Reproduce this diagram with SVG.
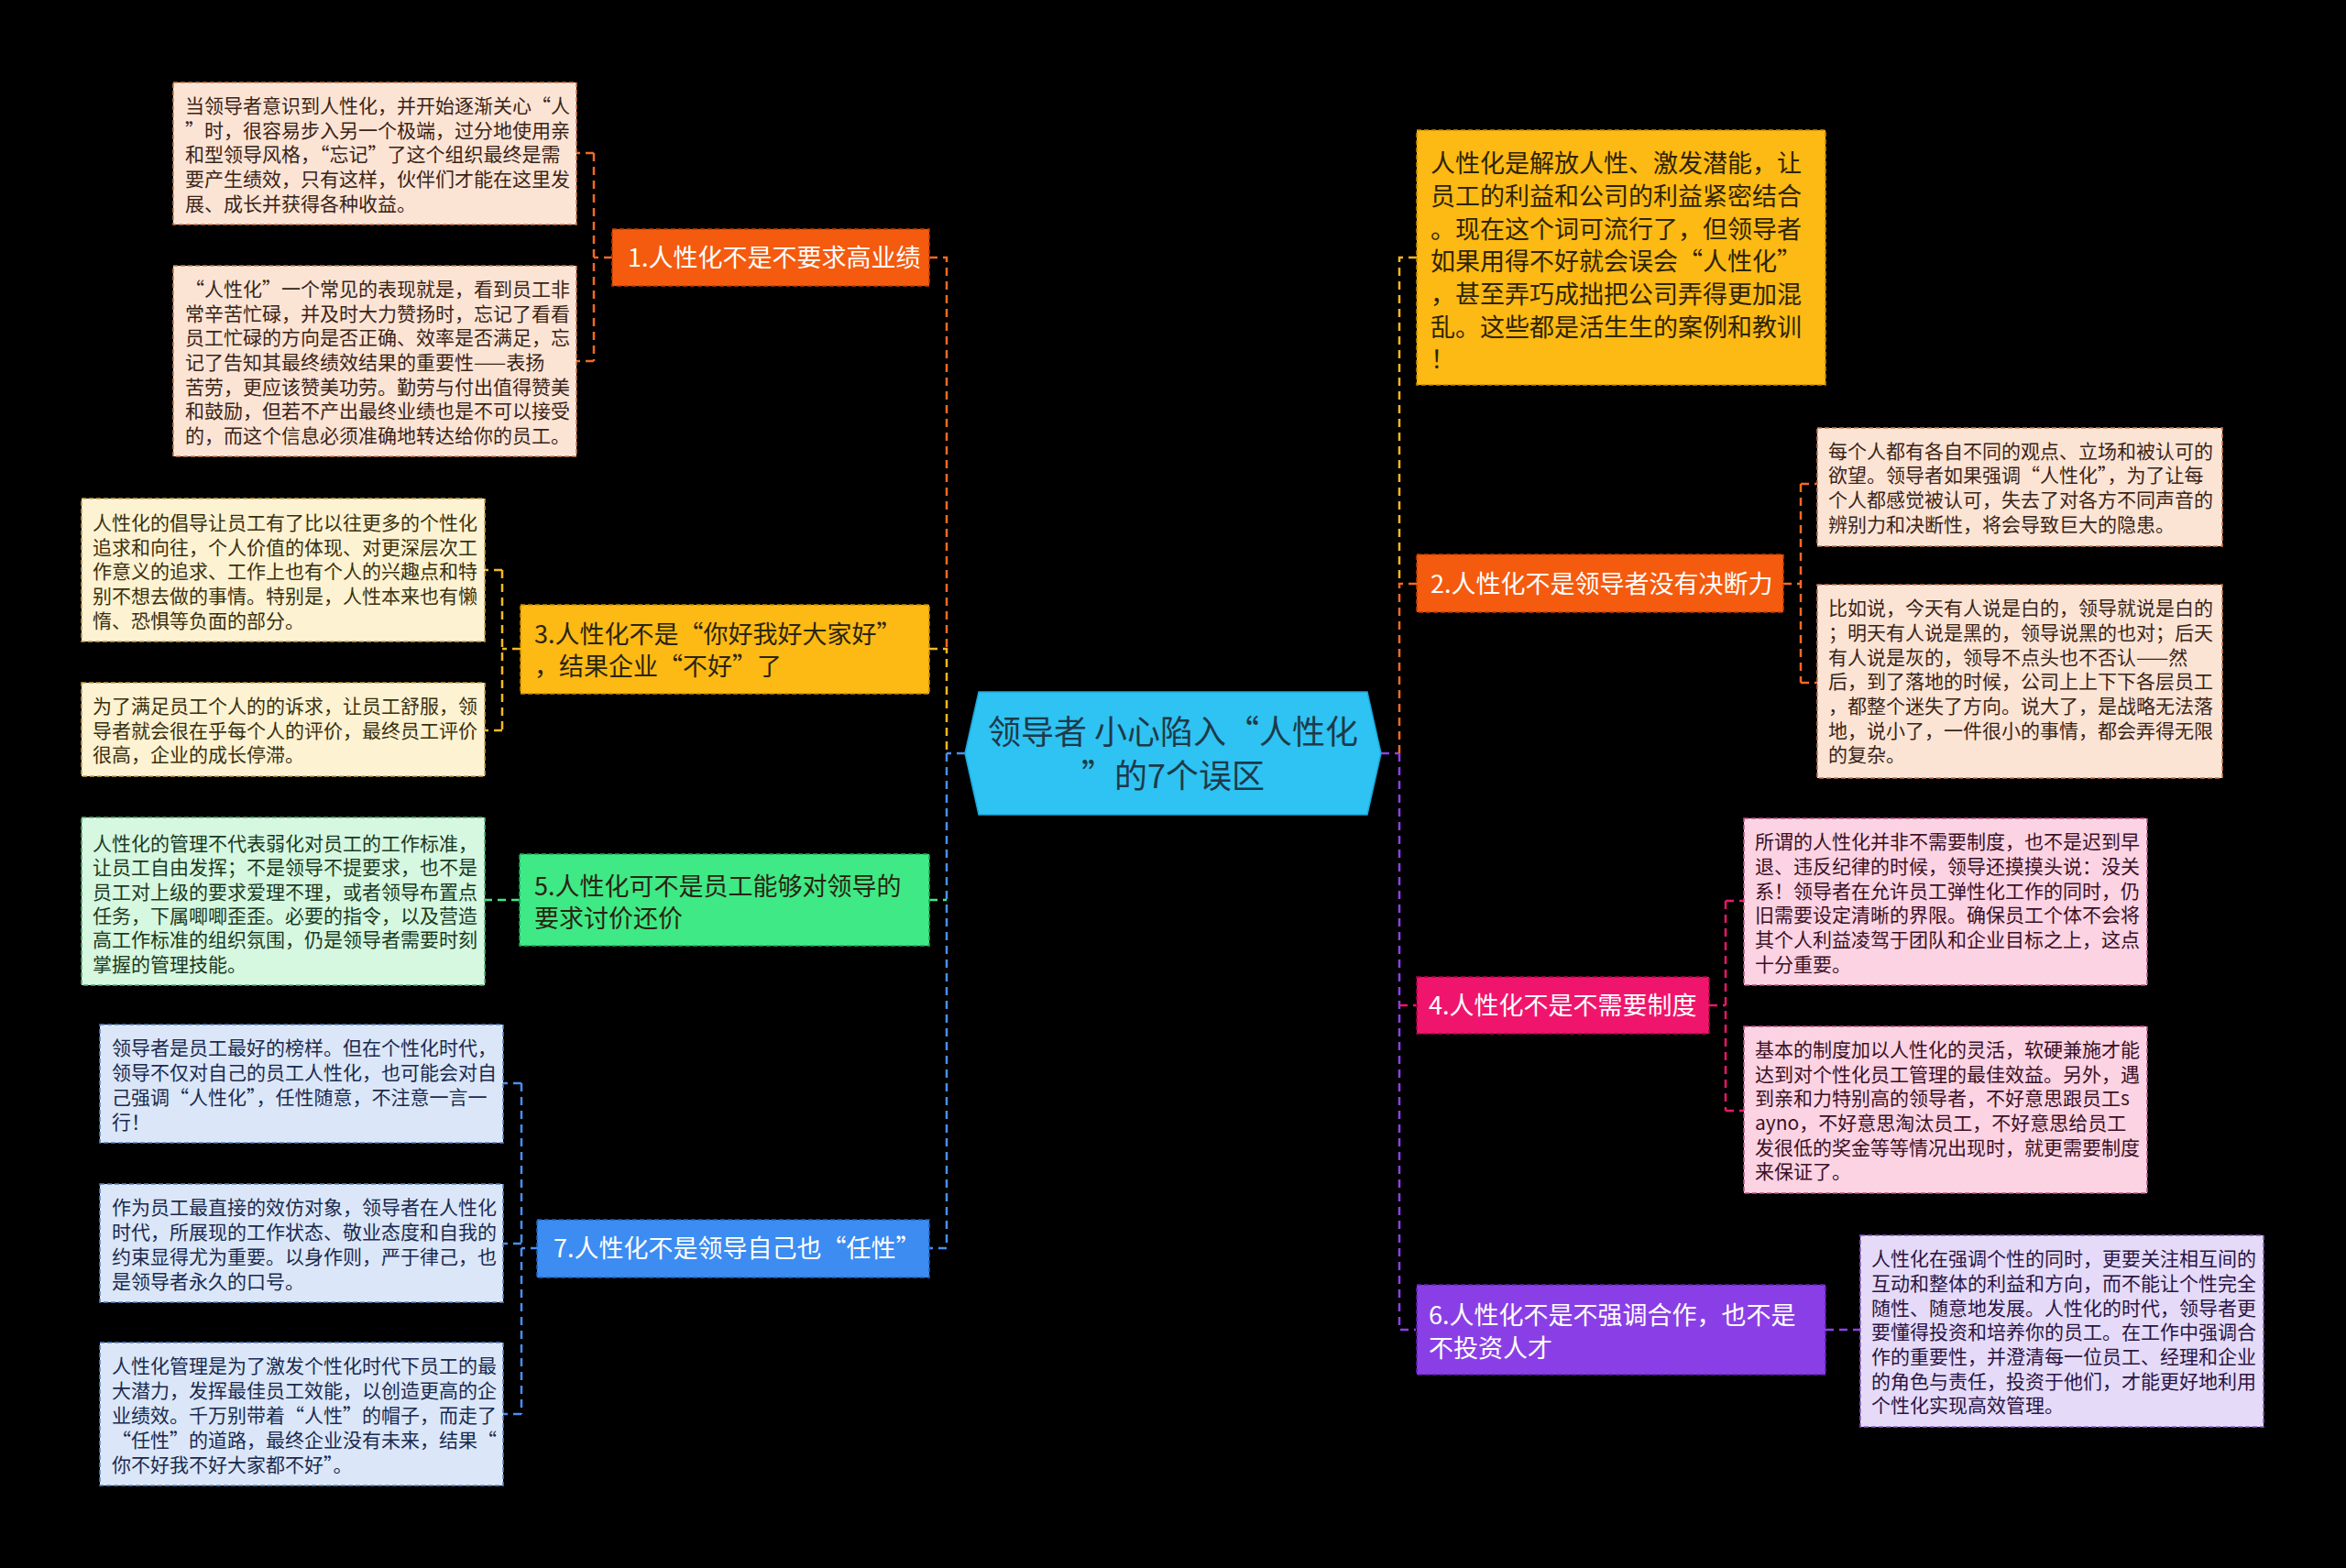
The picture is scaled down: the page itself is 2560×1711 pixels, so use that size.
<svg xmlns="http://www.w3.org/2000/svg" width="2560" height="1711" viewBox="0 0 2560 1711">
<style>
text{font-family:"Noto Sans CJK SC","Noto Sans",sans-serif}
.leaf{font-size:21px}
.br{font-size:27px}
.w{fill:#ffffff}
.k{fill:#2a2410}
.con{fill:none;stroke-width:2.5;stroke-dasharray:9 6}
.bd{stroke-width:1.6;stroke-dasharray:5 3}
</style>
<rect x="0" y="0" width="2560" height="1711" fill="#000000"/>

<g id="connectors">
  <path class="con" stroke="#4a8ff0" d="M1053,822 H1033"/>
  <path class="con" stroke="#f06a26" d="M1014,281 H1033 V708"/>
  <path class="con" stroke="#f5b820" d="M1014,708 H1033 V822"/>
  <path class="con" stroke="#4a8ff0" d="M1033,822 V1362 H1014"/>
  <path class="con" stroke="#3fe986" d="M1014,982 H1033"/>
  <path class="con" stroke="#8c40e8" d="M1507,822 H1527"/>
  <path class="con" stroke="#f5b820" d="M1546,281 H1527 V637"/>
  <path class="con" stroke="#f06a26" d="M1546,637 H1527 V822"/>
  <path class="con" stroke="#8c40e8" d="M1527,822 V1451 H1545"/>
  <path class="con" stroke="#f0156c" d="M1527,1097 H1545"/>
  <path class="con" stroke="#f06a26" d="M668,281 H648 M648,167 V394 M648,167 H629 M648,394 H629"/>
  <path class="con" stroke="#f5b820" d="M568,708 H548 M548,622 V797 M548,622 H529 M548,797 H529"/>
  <path class="con" stroke="#3fe986" d="M567,982 H529"/>
  <path class="con" stroke="#4a8ff0" d="M588,1362 H569 M569,1182 V1543 M569,1182 H549 M569,1357 H549 M569,1543 H549"/>
  <path class="con" stroke="#f06a26" d="M1946,637 H1965 M1965,528 V745 M1965,528 H1983 M1965,745 H1983"/>
  <path class="con" stroke="#f0156c" d="M1865,1097 H1883 M1883,983 V1212 M1883,983 H1903 M1883,1212 H1903"/>
  <path class="con" stroke="#8c40e8" d="M1992,1451 H2030"/>
</g>

<g id="center">
  <polygon points="1053,822 1068,755 1492,755 1507,822 1492,889 1068,889" fill="#2ec3f2" stroke="#1aa6d8" stroke-width="1.5"/>
  <text x="1280" y="812" font-size="36" text-anchor="middle" fill="#1e3a4a">领导者 小心陷入“人性化</text>
  <text x="1280" y="860" font-size="36" text-anchor="middle" fill="#1e3a4a">”的7个误区</text>
</g>

<g id="b1">
  <rect x="668" y="250" width="346" height="62" fill="#f45b0f" stroke="#c23c00" class="bd"/>
  <text class="br w" x="685" y="291">1.人性化不是不要求高业绩</text>
</g>
<g id="b3">
  <rect x="568" y="660" width="446" height="97" fill="#fdb914" stroke="#c88a00" class="bd"/>
  <text class="br k" x="583" y="702">3.人性化不是“你好我好大家好”</text>
  <text class="br k" x="583" y="737">，结果企业“不好”了</text>
</g>
<g id="b5">
  <rect x="567" y="932" width="447" height="100" fill="#3fe986" stroke="#20a855" class="bd"/>
  <text class="br k" x="583" y="977">5.人性化可不是员工能够对领导的</text>
  <text class="br k" x="583" y="1012">要求讨价还价</text>
</g>
<g id="b7">
  <rect x="586" y="1331" width="428" height="63" fill="#3c8cf2" stroke="#1d62c0" class="bd"/>
  <text class="br w" x="604" y="1372">7.人性化不是领导自己也“任性”</text>
</g>
<g id="b0">
  <rect x="1546" y="142" width="446" height="278" fill="#fdb914" stroke="#c88a00" class="bd"/>
  <g font-size="27" fill="#2e2400">
  <text x="1561" y="188">人性化是解放人性、激发潜能，让</text>
  <text x="1561" y="224">员工的利益和公司的利益紧密结合</text>
  <text x="1561" y="260">。现在这个词可流行了，但领导者</text>
  <text x="1561" y="295">如果用得不好就会误会“人性化”</text>
  <text x="1561" y="331">，甚至弄巧成拙把公司弄得更加混</text>
  <text x="1561" y="367">乱。这些都是活生生的案例和教训</text>
  <text x="1561" y="402">！</text>
  </g>
</g>
<g id="b2">
  <rect x="1546" y="605" width="400" height="63" fill="#f45b0f" stroke="#c23c00" class="bd"/>
  <text class="br w" x="1561" y="647">2.人性化不是领导者没有决断力</text>
</g>
<g id="b4">
  <rect x="1546" y="1066" width="319" height="62" fill="#f0156c" stroke="#b00048" class="bd"/>
  <text class="br w" x="1559" y="1107">4.人性化不是不需要制度</text>
</g>
<g id="b6">
  <rect x="1546" y="1402" width="446" height="98" fill="#8a3fe6" stroke="#6020b8" class="bd"/>
  <text class="br w" x="1559" y="1445">6.人性化不是不强调合作，也不是</text>
  <text class="br w" x="1559" y="1481">不投资人才</text>
</g>

<g id="l1a">
  <rect x="189" y="90" width="440" height="155" fill="#fce4d5" stroke="#c87a50" class="bd"/>
  <g class="leaf" fill="#3a2418">
  <text x="202" y="123">当领导者意识到人性化，并开始逐渐关心“人</text>
  <text x="202" y="150">”时，很容易步入另一个极端，过分地使用亲</text>
  <text x="202" y="176">和型领导风格，“忘记”了这个组织最终是需</text>
  <text x="202" y="203">要产生绩效，只有这样，伙伴们才能在这里发</text>
  <text x="202" y="230">展、成长并获得各种收益。</text>
  </g>
</g>
<g id="l1b">
  <rect x="189" y="290" width="440" height="208" fill="#fce4d5" stroke="#c87a50" class="bd"/>
  <g class="leaf" fill="#3a2418">
  <text x="202" y="323">“人性化”一个常见的表现就是，看到员工非</text>
  <text x="202" y="350">常辛苦忙碌，并及时大力赞扬时，忘记了看看</text>
  <text x="202" y="376">员工忙碌的方向是否正确、效率是否满足，忘</text>
  <text x="202" y="403">记了告知其最终绩效结果的重要性——表扬</text>
  <text x="202" y="430">苦劳，更应该赞美功劳。勤劳与付出值得赞美</text>
  <text x="202" y="456">和鼓励，但若不产出最终业绩也是不可以接受</text>
  <text x="202" y="483">的，而这个信息必须准确地转达给你的员工。</text>
  </g>
</g>
<g id="l3a">
  <rect x="89" y="544" width="440" height="156" fill="#fdf3d2" stroke="#c8a050" class="bd"/>
  <g class="leaf" fill="#3a3010">
  <text x="101" y="578">人性化的倡导让员工有了比以往更多的个性化</text>
  <text x="101" y="605">追求和向往，个人价值的体现、对更深层次工</text>
  <text x="101" y="631">作意义的追求、工作上也有个人的兴趣点和特</text>
  <text x="101" y="658">别不想去做的事情。特别是，人性本来也有懒</text>
  <text x="101" y="685">惰、恐惧等负面的部分。</text>
  </g>
</g>
<g id="l3b">
  <rect x="89" y="745" width="440" height="102" fill="#fdf3d2" stroke="#c8a050" class="bd"/>
  <g class="leaf" fill="#3a3010">
  <text x="101" y="778">为了满足员工个人的的诉求，让员工舒服，领</text>
  <text x="101" y="805">导者就会很在乎每个人的评价，最终员工评价</text>
  <text x="101" y="831">很高，企业的成长停滞。</text>
  </g>
</g>
<g id="l5a">
  <rect x="89" y="892" width="440" height="183" fill="#d6f7e0" stroke="#50b070" class="bd"/>
  <g class="leaf" fill="#1a3a22">
  <text x="101" y="928">人性化的管理不代表弱化对员工的工作标准，</text>
  <text x="101" y="954">让员工自由发挥；不是领导不提要求，也不是</text>
  <text x="101" y="981">员工对上级的要求爱理不理，或者领导布置点</text>
  <text x="101" y="1007">任务，下属唧唧歪歪。必要的指令，以及营造</text>
  <text x="101" y="1033">高工作标准的组织氛围，仍是领导者需要时刻</text>
  <text x="101" y="1060">掌握的管理技能。</text>
  </g>
</g>
<g id="l7a">
  <rect x="109" y="1118" width="440" height="129" fill="#dbe7f8" stroke="#5a82c0" class="bd"/>
  <g class="leaf" fill="#1a2a50">
  <text x="122" y="1151">领导者是员工最好的榜样。但在个性化时代，</text>
  <text x="122" y="1178">领导不仅对自己的员工人性化，也可能会对自</text>
  <text x="122" y="1205">己强调“人性化”，任性随意，不注意一言一</text>
  <text x="122" y="1232">行！</text>
  </g>
</g>
<g id="l7b">
  <rect x="109" y="1292" width="440" height="129" fill="#dbe7f8" stroke="#5a82c0" class="bd"/>
  <g class="leaf" fill="#1a2a50">
  <text x="122" y="1325">作为员工最直接的效仿对象，领导者在人性化</text>
  <text x="122" y="1352">时代，所展现的工作状态、敬业态度和自我的</text>
  <text x="122" y="1379">约束显得尤为重要。以身作则，严于律己，也</text>
  <text x="122" y="1406">是领导者永久的口号。</text>
  </g>
</g>
<g id="l7c">
  <rect x="109" y="1465" width="440" height="156" fill="#dbe7f8" stroke="#5a82c0" class="bd"/>
  <g class="leaf" fill="#1a2a50">
  <text x="122" y="1498">人性化管理是为了激发个性化时代下员工的最</text>
  <text x="122" y="1525">大潜力，发挥最佳员工效能，以创造更高的企</text>
  <text x="122" y="1552">业绩效。千万别带着“人性”的帽子，而走了</text>
  <text x="122" y="1579">“任性”的道路，最终企业没有未来，结果“</text>
  <text x="122" y="1606">你不好我不好大家都不好”。</text>
  </g>
</g>
<g id="l2a">
  <rect x="1983" y="467" width="442" height="129" fill="#fce4d5" stroke="#c87a50" class="bd"/>
  <g class="leaf" fill="#3a2418">
  <text x="1995" y="500">每个人都有各自不同的观点、立场和被认可的</text>
  <text x="1995" y="526">欲望。领导者如果强调“人性化”，为了让每</text>
  <text x="1995" y="553">个人都感觉被认可，失去了对各方不同声音的</text>
  <text x="1995" y="580">辨别力和决断性，将会导致巨大的隐患。</text>
  </g>
</g>
<g id="l2b">
  <rect x="1983" y="638" width="442" height="211" fill="#fce4d5" stroke="#c87a50" class="bd"/>
  <g class="leaf" fill="#3a2418">
  <text x="1995" y="671">比如说，今天有人说是白的，领导就说是白的</text>
  <text x="1995" y="698">；明天有人说是黑的，领导说黑的也对；后天</text>
  <text x="1995" y="725">有人说是灰的，领导不点头也不否认——然</text>
  <text x="1995" y="751">后，到了落地的时候，公司上上下下各层员工</text>
  <text x="1995" y="778">，都整个迷失了方向。说大了，是战略无法落</text>
  <text x="1995" y="805">地，说小了，一件很小的事情，都会弄得无限</text>
  <text x="1995" y="831">的复杂。</text>
  </g>
</g>
<g id="l4a">
  <rect x="1903" y="893" width="440" height="182" fill="#fcd3e3" stroke="#c05080" class="bd"/>
  <g class="leaf" fill="#3a1024">
  <text x="1915" y="926">所谓的人性化并非不需要制度，也不是迟到早</text>
  <text x="1915" y="953">退、违反纪律的时候，领导还摸摸头说：没关</text>
  <text x="1915" y="980">系！领导者在允许员工弹性化工作的同时，仍</text>
  <text x="1915" y="1006">旧需要设定清晰的界限。确保员工个体不会将</text>
  <text x="1915" y="1033">其个人利益凌驾于团队和企业目标之上，这点</text>
  <text x="1915" y="1060">十分重要。</text>
  </g>
</g>
<g id="l4b">
  <rect x="1903" y="1120" width="440" height="182" fill="#fcd3e3" stroke="#c05080" class="bd"/>
  <g class="leaf" fill="#3a1024">
  <text x="1915" y="1153">基本的制度加以人性化的灵活，软硬兼施才能</text>
  <text x="1915" y="1180">达到对个性化员工管理的最佳效益。另外，遇</text>
  <text x="1915" y="1206">到亲和力特别高的领导者，不好意思跟员工s</text>
  <text x="1915" y="1233">ayno，不好意思淘汰员工，不好意思给员工</text>
  <text x="1915" y="1260">发很低的奖金等等情况出现时，就更需要制度</text>
  <text x="1915" y="1286">来保证了。</text>
  </g>
</g>
<g id="l6a">
  <rect x="2030" y="1348" width="440" height="209" fill="#e5dbf8" stroke="#8a60c8" class="bd"/>
  <g class="leaf" fill="#2a1444">
  <text x="2042" y="1381">人性化在强调个性的同时，更要关注相互间的</text>
  <text x="2042" y="1408">互动和整体的利益和方向，而不能让个性完全</text>
  <text x="2042" y="1435">随性、随意地发展。人性化的时代，领导者更</text>
  <text x="2042" y="1461">要懂得投资和培养你的员工。在工作中强调合</text>
  <text x="2042" y="1488">作的重要性，并澄清每一位员工、经理和企业</text>
  <text x="2042" y="1515">的角色与责任，投资于他们，才能更好地利用</text>
  <text x="2042" y="1541">个性化实现高效管理。</text>
  </g>
</g>
</svg>
